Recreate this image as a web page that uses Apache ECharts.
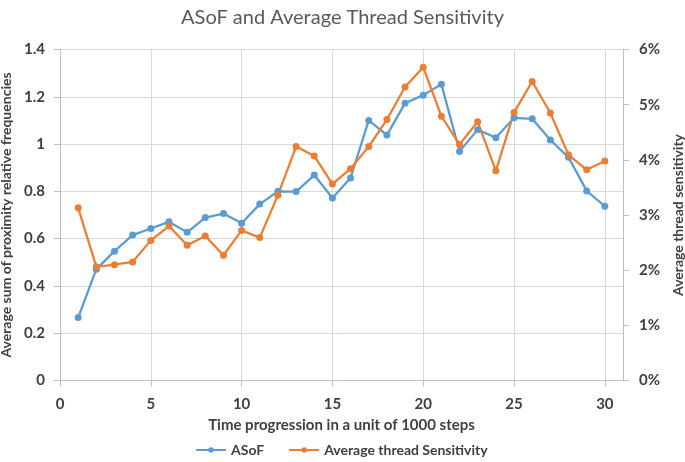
<!DOCTYPE html>
<html>
<head>
<meta charset="utf-8">
<script src="https://cdn.jsdelivr.net/npm/echarts@6/dist/echarts.min.js"></script>
<style>
html,body{margin:0;padding:0;background:#fff;}
#chart{width:685px;height:462px;}
</style>
</head>
<body>
<div id="chart"></div>
<script>
const steps = [1,2,3,4,5,6,7,8,9,10,11,12,13,14,15,16,17,18,19,20,21,22,23,24,25,26,27,28,29,30];
const asof = [0.266,0.471,0.547,0.615,0.643,0.671,0.627,0.689,0.706,0.665,0.746,0.800,0.799,0.869,0.772,0.857,1.100,1.038,1.173,1.207,1.253,0.969,1.061,1.027,1.111,1.107,1.017,0.944,0.802,0.737];
const sensitivity = [3.13,2.06,2.10,2.15,2.54,2.80,2.45,2.62,2.27,2.72,2.59,3.36,4.24,4.07,3.56,3.84,4.24,4.73,5.32,5.68,4.79,4.28,4.69,3.80,4.86,5.42,4.85,4.09,3.82,3.98];
const leftTicks = [0,0.2,0.4,0.6,0.8,1,1.2,1.4];
const rightTicks = [0,1,2,3,4,5,6];

const FONT = 'Lato';
const TXT = '#404040';
const GRID = '#d9d9d9';
const AXIS = '#bfbfbf';

const chart = echarts.init(document.getElementById('chart'));
chart.setOption({
  animation: false,
  textStyle: {fontFamily: FONT},
  title: {
    text: 'ASoF and Average Thread Sensitivity',
    left: 'center', top: 3,
    textStyle: {fontFamily: FONT, fontSize: 20, fontWeight: 'normal', color: '#595959'}
  },
  legend: {
    bottom: 0, left: 190,
    itemWidth: 30, itemHeight: 7, itemGap: 24,
    textStyle: {fontFamily: FONT, fontSize: 14, fontWeight: 'bold', color: TXT},
    data: [
      {name: 'ASoF'},
      {name: 'Average thread Sensitivity'}
    ]
  },
  grid: {left: 60, right: 62, top: 49.5, bottom: 81.5, containLabel: false, outerBoundsMode: 'none'},
  xAxis: {
    type: 'value', min: 0, max: 31, interval: 5,
    name: 'Time progression in a unit of 1000 steps',
    nameLocation: 'middle', nameGap: 37,
    nameTextStyle: {fontFamily: FONT, fontSize: 15, fontWeight: 'bold', color: TXT},
    axisLine: {show: true, lineStyle: {color: AXIS, width: 1}},
    axisTick: {show: true, length: 6, lineStyle: {color: AXIS}},
    splitLine: {show: true, lineStyle: {color: GRID, width: 1}},
    axisLabel: {margin: 16, fontFamily: FONT, fontSize: 15, fontWeight: 'bold', color: TXT, showMaxLabel: false,
      formatter: v => String(v)}
  },
  yAxis: [
    {
      type: 'value', min: leftTicks[0], max: leftTicks[leftTicks.length-1], interval: 0.2,
      name: 'Average sum of proximity relative frequencies',
      nameLocation: 'middle', nameGap: 45, nameRotate: 90,
      nameTextStyle: {fontFamily: FONT, fontSize: 14, fontWeight: 'bold', color: TXT},
      axisLine: {show: true, lineStyle: {color: AXIS}},
      axisTick: {show: true, length: 6, lineStyle: {color: AXIS}},
      splitLine: {show: true, lineStyle: {color: GRID}},
      axisLabel: {margin: 15, fontFamily: FONT, fontSize: 15, fontWeight: 'bold', color: TXT,
        formatter: v => String(Math.round(v*10)/10)}
    },
    {
      type: 'value', min: rightTicks[0], max: rightTicks[rightTicks.length-1], interval: 1,
      name: 'Average thread sensitivity',
      nameLocation: 'middle', nameGap: 48, nameRotate: 90,
      nameTextStyle: {fontFamily: FONT, fontSize: 14, fontWeight: 'bold', color: TXT},
      axisLine: {show: true, lineStyle: {color: AXIS}},
      axisTick: {show: true, length: 6, lineStyle: {color: AXIS}},
      splitLine: {show: false},
      axisLabel: {margin: 16, fontFamily: FONT, fontSize: 15, fontWeight: 'bold', color: TXT,
        formatter: v => v + '%'}
    }
  ],
  series: [
    {
      name: 'ASoF', type: 'line', yAxisIndex: 0,
      data: steps.map((s,i) => [s, asof[i]]),
      symbol: 'circle', symbolSize: 7,
      lineStyle: {color: '#5B9BD5', width: 2.25},
      itemStyle: {color: '#5B9BD5'}
    },
    {
      name: 'Average thread Sensitivity', type: 'line', yAxisIndex: 1,
      data: steps.map((s,i) => [s, sensitivity[i]]),
      symbol: 'circle', symbolSize: 7,
      lineStyle: {color: '#ED7D31', width: 2.25},
      itemStyle: {color: '#ED7D31'}
    }
  ]
});
</script>
</body>
</html>
